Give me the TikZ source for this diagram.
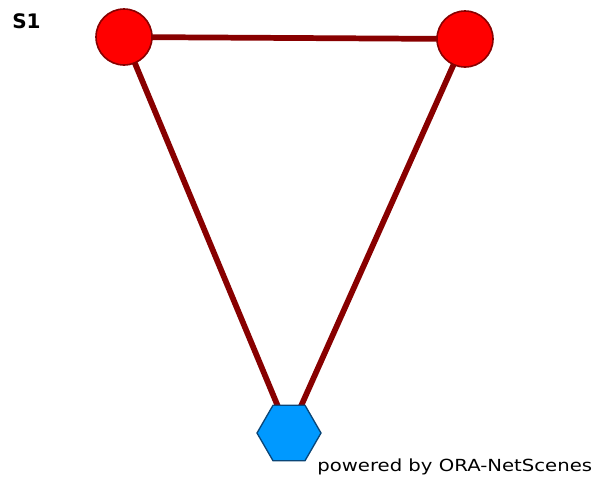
\documentclass[tikz,border=0pt]{standalone}
\usepackage{fontspec}
\setmainfont{DejaVu Sans}
\usetikzlibrary{shapes.geometric}
\definecolor{edgered}{RGB}{136,0,0}
\definecolor{nodered}{RGB}{255,0,0}
\definecolor{hexblue}{RGB}{0,153,255}
\definecolor{hexborder}{RGB}{10,70,120}
\tikzset{
  agent/.style={circle, fill=nodered, draw=edgered, line width=1.2pt, minimum size=56*0.75pt, inner sep=0pt},
  org/.style={regular polygon, regular polygon sides=6, fill=hexblue, draw=hexborder, line width=1pt, minimum size=64*0.75pt, inner sep=0pt},
  link/.style={draw=edgered, line width=4.3pt},
}
\begin{document}
\begin{tikzpicture}[x=0.75pt,y=-0.75pt]
\useasboundingbox (0,0) rectangle (602,476);
\coordinate (pa) at (124,37);
\coordinate (pb) at (465,39);
\coordinate (pc) at (289,433);
\draw[link] (pa) -- (pb);
\draw[link] (pa) -- (pc);
\draw[link] (pb) -- (pc);
\node[agent] (a) at (pa) {};
\node[agent] (b) at (pb) {};
\node[org] (c) at (pc) {};
\node[anchor=base west, inner sep=0pt, font=\fontsize{15}{18}\selectfont\bfseries] (title) at (12,28) {S1};
\node[anchor=base west, inner sep=0pt, xscale=1.18, font=\fontsize{12.5}{14}\selectfont] (credit) at (317,471) {powered by ORA-NetScenes};
\end{tikzpicture}
\end{document}
